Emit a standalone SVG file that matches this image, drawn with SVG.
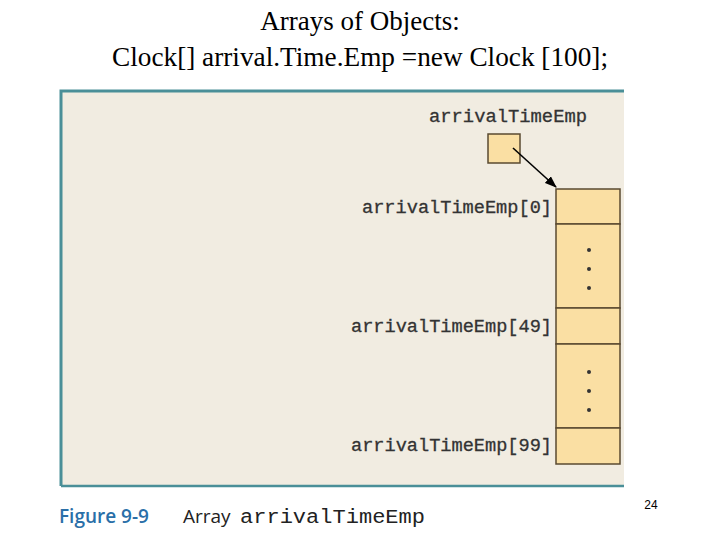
<svg xmlns="http://www.w3.org/2000/svg" width="720" height="540" viewBox="0 0 720 540">
<style>
.t{font-family:"Liberation Serif",serif;font-size:27px;fill:#000;text-anchor:middle}
.m{font-family:"Liberation Mono",monospace;font-size:18px;fill:#333;text-anchor:end;stroke:#333;stroke-width:0.3}
.c{fill:#fadfa3;stroke:#5a4a30;stroke-width:1.5}
.d{fill:#333}
</style>
<defs><marker id="ah" markerWidth="12" markerHeight="9" refX="11" refY="4.5" orient="auto" markerUnits="userSpaceOnUse"><path d="M0,0L12,4.5L0,9z" fill="#000"/></marker></defs>
<rect width="720" height="540" fill="#fff"/>
<text class="t" x="360" y="30">Arrays of Objects:</text>
<text class="t" x="360" y="66" textLength="496" lengthAdjust="spacingAndGlyphs">Clock[] arrival.Time.Emp =new Clock [100];</text>
<rect x="60" y="90" width="564" height="396" fill="#f1ece1"/>
<path d="M61,486V91H624" fill="none" stroke="#4a8f98" stroke-width="3"/>
<path d="M61,486H624" stroke="#4a8f98" stroke-width="2.5"/>
<g id="ref"><text class="m" x="587" y="122" textLength="158" lengthAdjust="spacingAndGlyphs">arrivalTimeEmp</text><rect class="c" x="488" y="134" width="32" height="29"/></g>
<g id="connectors"><line x1="513" y1="148" x2="556" y2="187" stroke="#000" stroke-width="1.6" marker-end="url(#ah)"/></g>
<g id="array">
<rect class="c" x="556" y="189" width="64" height="35"/>
<rect class="c" x="556" y="224" width="64" height="84"/>
<rect class="c" x="556" y="308" width="64" height="36"/>
<rect class="c" x="556" y="344" width="64" height="84"/>
<rect class="c" x="556" y="428" width="64" height="36"/>
<circle class="d" cx="589" cy="250" r="2"/><circle class="d" cx="589" cy="269" r="2"/><circle class="d" cx="589" cy="288" r="2"/>
<circle class="d" cx="589" cy="372" r="2"/><circle class="d" cx="589" cy="391" r="2"/><circle class="d" cx="589" cy="410" r="2"/>
<text class="m" x="552" y="213" textLength="190" lengthAdjust="spacingAndGlyphs">arrivalTimeEmp[0]</text>
<text class="m" x="552" y="332" textLength="201" lengthAdjust="spacingAndGlyphs">arrivalTimeEmp[49]</text>
<text class="m" x="552" y="451" textLength="201" lengthAdjust="spacingAndGlyphs">arrivalTimeEmp[99]</text>
</g>
<text x="59" y="523" font-family="Open Sans,sans-serif" font-size="19" font-weight="600" fill="#2a6fa8">Figure 9-9</text>
<text x="183" y="523" font-family="Open Sans,sans-serif" font-size="19" fill="#222">Array</text>
<text x="240" y="523" font-family="Liberation Mono,monospace" font-size="20" fill="#222" textLength="185" lengthAdjust="spacingAndGlyphs">arrivalTimeEmp</text>
<text x="651" y="509" font-family="Liberation Sans,sans-serif" font-size="12" text-anchor="middle">24</text>
</svg>
